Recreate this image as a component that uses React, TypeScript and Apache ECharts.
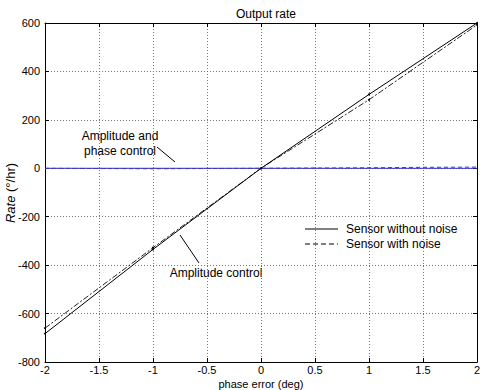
import React, { useEffect, useRef } from "react";
import * as echarts from "echarts";

const solidBlack: [number, number][] = [[-2, -683], [-1, -335], [0, 0], [1, 305], [2, 600]];
const dashedBlack: [number, number][] = [[-2, -660], [-1, -328], [0, 0], [1, 283], [2, 592]];
const solidBlue: [number, number][] = [[-2, 0], [-1, 0], [0, 0], [1, 0], [2, 0]];
const dashedBlue: [number, number][] = [[-2, 0], [-1.5, -1], [-1, -2], [-0.5, -1], [0, 0], [0.5, 1], [1, 2], [1.5, 4], [2, 5]];

const FONT = "Liberation Sans, Arial, sans-serif";

export default function App() {
  const ref = useRef<HTMLDivElement>(null);
  useEffect(() => {
    const chart = echarts.init(ref.current!, null, { renderer: "svg" });
    const grid = { left: 45, top: 23, right: 3, bottom: 28, containLabel: false, outerBoundsMode: "none" };
    const gridLine = { show: true, lineStyle: { color: "#777", type: [1, 2] as any, width: 1 } };
    chart.setOption({
      animation: false,
      backgroundColor: "#fff",
      title: {
        text: "Output rate",
        left: 261,
        top: 3,
        textAlign: "center",
        textStyle: { fontFamily: FONT, fontSize: 12, fontWeight: "normal", color: "#000" },
      },
      grid,
      xAxis: [
        {
          type: "value",
          min: -2,
          max: 2,
          interval: 0.5,
          axisLine: { show: true, onZero: false, lineStyle: { color: "#000" } },
          axisTick: { show: true, inside: true, length: 4, lineStyle: { color: "#000" } },
          axisLabel: { fontFamily: FONT, fontSize: 11, color: "#000", margin: 2 },
          splitLine: gridLine,
        },
        {
          type: "value",
          position: "top",
          min: -2,
          max: 2,
          interval: 0.5,
          axisLine: { show: true, onZero: false, lineStyle: { color: "#000" } },
          axisTick: { show: true, inside: true, length: 4, lineStyle: { color: "#000" } },
          axisLabel: { show: false },
          splitLine: { show: false },
        },
      ],
      yAxis: [
        {
          type: "value",
          min: -800,
          max: 600,
          interval: 200,
          axisLine: { show: true, onZero: false, lineStyle: { color: "#000" } },
          axisTick: { show: true, inside: true, length: 4, lineStyle: { color: "#000" } },
          axisLabel: { fontFamily: FONT, fontSize: 11, color: "#000", margin: 5 },
          splitLine: gridLine,
        },
        {
          type: "value",
          position: "right",
          min: -800,
          max: 600,
          interval: 200,
          axisLine: { show: true, onZero: false, lineStyle: { color: "#000" } },
          axisTick: { show: true, inside: true, length: 4, lineStyle: { color: "#000" } },
          axisLabel: { show: false },
          splitLine: { show: false },
        },
      ],
      series: [
        {
          type: "line",
          data: solidBlue,
          symbol: "none",
          lineStyle: { color: "#2a2ad0", width: 1 },
        },
        {
          type: "line",
          data: dashedBlue,
          symbol: "none",
          lineStyle: { color: "#3a3ab8", width: 1, type: [4, 3] },
        },
        {
          type: "line",
          data: dashedBlack,
          symbol: "circle",
          symbolSize: 2,
          itemStyle: { color: "#000" },
          lineStyle: { color: "#222", width: 1, type: [6, 2, 2, 2] },
        },
        {
          type: "line",
          data: solidBlack,
          symbol: "circle",
          symbolSize: 2,
          itemStyle: { color: "#000" },
          lineStyle: { color: "#000", width: 1 },
        },
      ],
      graphic: [
        {
          type: "text",
          x: 261,
          y: 384,
          style: { text: "phase error (deg)", fontFamily: FONT, fontSize: 11, fill: "#000", align: "center", verticalAlign: "middle" },
        },
        {
          type: "text",
          rotation: Math.PI / 2,
          style: {
            text: "{i|Rate} (°/hr)",
            rich: {
              i: { fontStyle: "italic", fontFamily: FONT, fontSize: 13 },
            },
            fontFamily: FONT,
            fontSize: 13,
            fill: "#000",
            align: "center",
            verticalAlign: "middle",
          },
          x: 10,
          y: 193,
        },
        {
          type: "text",
          x: 120,
          y: 136,
          style: { text: "Amplitude and", fontFamily: FONT, fontSize: 12, fill: "#000", align: "center", verticalAlign: "middle" },
        },
        {
          type: "text",
          x: 120,
          y: 151,
          style: { text: "phase control", fontFamily: FONT, fontSize: 12, fill: "#000", align: "center", verticalAlign: "middle" },
        },
        {
          type: "line",
          shape: { x1: 157, y1: 147, x2: 175, y2: 162 },
          style: { stroke: "#000", lineWidth: 1 },
        },
        {
          type: "text",
          x: 216,
          y: 273,
          style: { text: "Amplitude control", fontFamily: FONT, fontSize: 12, fill: "#000", align: "center", verticalAlign: "middle" },
        },
        {
          type: "line",
          shape: { x1: 180, y1: 235, x2: 199, y2: 263 },
          style: { stroke: "#000", lineWidth: 1 },
        },
        {
          type: "line",
          shape: { x1: 305, y1: 229, x2: 338, y2: 229 },
          style: { stroke: "#000", lineWidth: 1 },
        },
        {
          type: "line",
          shape: { x1: 305, y1: 244, x2: 338, y2: 244 },
          style: { stroke: "#000", lineWidth: 1, lineDash: [5, 3] },
        },
        {
          type: "text",
          x: 346,
          y: 229,
          style: { text: "Sensor without noise", fontFamily: FONT, fontSize: 12, fill: "#000", verticalAlign: "middle" },
        },
        {
          type: "text",
          x: 346,
          y: 244,
          style: { text: "Sensor with noise", fontFamily: FONT, fontSize: 12, fill: "#000", verticalAlign: "middle" },
        },
      ],
    });
    return () => chart.dispose();
  }, []);
  return <div ref={ref} style={{ width: 480, height: 390, position: "absolute", left: 0, top: 0 }} />;
}
